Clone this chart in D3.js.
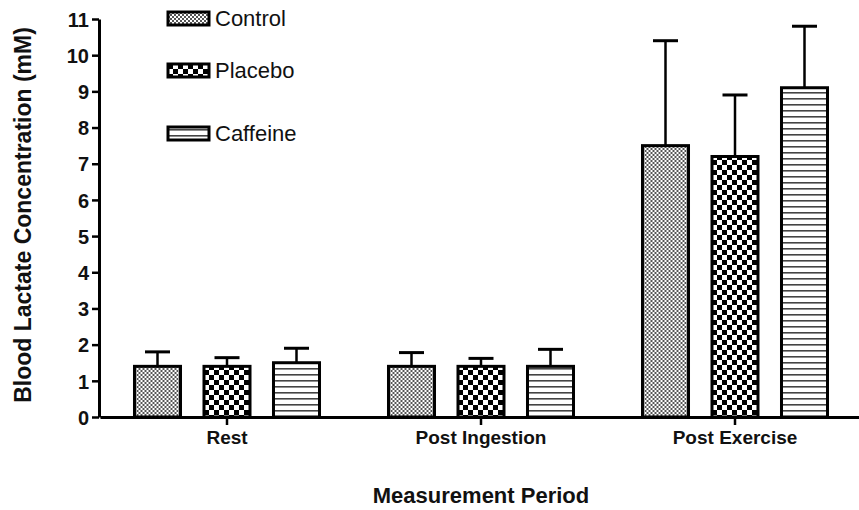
<!DOCTYPE html>
<html>
<head>
<meta charset="utf-8">
<script src="https://cdn.jsdelivr.net/npm/d3@7"></script>
<style>
  body { margin: 0; background: #fff; }
  svg { display: block; font-family: "Liberation Sans", Arial, sans-serif; }
  .axis path, .axis line { stroke: #000; }
  .axis text { font-weight: bold; fill: #111; }
</style>
</head>
<body>
<svg width="859" height="510"></svg>
<script>
'use strict';

// data
var periods = ["Rest", "Post Ingestion", "Post Exercise"];
var groups = ["Control", "Placebo", "Caffeine"];
var control = [1.4, 1.4, 7.5];
var placebo = [1.4, 1.4, 7.2];
var caffeine = [1.5, 1.4, 9.1];
var controlSd = [0.4, 0.38, 2.9];
var placeboSd = [0.24, 0.22, 1.7];
var caffeineSd = [0.4, 0.47, 1.7];
var yTicks = [0, 1, 2, 3, 4, 5, 6, 7, 8, 9, 10, 11];

var means = [control, placebo, caffeine];
var sds = [controlSd, placeboSd, caffeineSd];

var rows = [];
periods.forEach(function(p, i) {
  groups.forEach(function(g, j) {
    rows.push({period: p, group: g, value: means[j][i], sd: sds[j][i]});
  });
});

var svg = d3.select("svg");

// patterns
var defs = svg.append("defs");

var pc = defs.append("pattern").attr("id", "pat-Control")
  .attr("patternUnits", "userSpaceOnUse").attr("width", 4).attr("height", 4);
pc.append("rect").attr("width", 4).attr("height", 4).attr("fill", "#fff");
pc.append("rect").attr("width", 2).attr("height", 2).attr("fill", "#555");
pc.append("rect").attr("x", 2).attr("y", 2).attr("width", 2).attr("height", 2).attr("fill", "#555");

var pp = defs.append("pattern").attr("id", "pat-Placebo")
  .attr("patternUnits", "userSpaceOnUse").attr("width", 10).attr("height", 10);
pp.append("rect").attr("width", 10).attr("height", 10).attr("fill", "#fff");
pp.append("rect").attr("x", 0).attr("y", 0).attr("width", 5).attr("height", 5).attr("fill", "#000");
pp.append("rect").attr("x", 5).attr("y", 5).attr("width", 5).attr("height", 5).attr("fill", "#000");

var pf = defs.append("pattern").attr("id", "pat-Caffeine")
  .attr("patternUnits", "userSpaceOnUse").attr("width", 6).attr("height", 6);
pf.append("rect").attr("width", 6).attr("height", 6).attr("fill", "#fff");
pf.append("rect").attr("y", 2).attr("width", 6).attr("height", 1.6).attr("fill", "#444");

// scales
var x0 = d3.scaleBand().domain(periods).range([100, 862]).padding(0);
var x1 = d3.scaleBand().domain(groups)
  .range([x0.bandwidth() / 2 - 104.25, x0.bandwidth() / 2 + 104.25])
  .paddingInner(0.338).paddingOuter(0.169);
var y = d3.scaleLinear().domain([0, 11]).range([417, 19]);

// bars
var bar = svg.append("g").selectAll("g")
  .data(rows)
  .enter()
  .append("g")
  .attr("transform", function(d) { return "translate(" + (x0(d.period) + x1(d.group)) + ",0)"; });

// error bars (drawn first, bar covers the bottom part)
bar.append("line")
  .attr("x1", x1.bandwidth() / 2).attr("x2", x1.bandwidth() / 2)
  .attr("y1", function(d) { return y(d.value); })
  .attr("y2", function(d) { return y(d.value + d.sd); })
  .attr("stroke", "#000").attr("stroke-width", 2.5);
bar.append("line")
  .attr("x1", x1.bandwidth() / 2 - 12.5).attr("x2", x1.bandwidth() / 2 + 12.5)
  .attr("y1", function(d) { return y(d.value + d.sd); })
  .attr("y2", function(d) { return y(d.value + d.sd); })
  .attr("stroke", "#000").attr("stroke-width", 3);

bar.append("rect")
  .attr("x", 0)
  .attr("width", x1.bandwidth())
  .attr("y", function(d) { return y(d.value); })
  .attr("height", function(d) { return y(0) - y(d.value); })
  .attr("fill", function(d) { return "url(#pat-" + d.group + ")"; })
  .attr("stroke", "#000")
  .attr("stroke-width", 3);

// y axis
var yAxis = svg.append("g")
  .attr("class", "axis")
  .attr("transform", "translate(99,0)")
  .call(d3.axisLeft(y).tickValues(yTicks).tickSize(7).tickSizeOuter(0).tickPadding(3));
yAxis.select(".domain").attr("stroke-width", 3);
yAxis.selectAll(".tick line").attr("stroke-width", 2.5);
yAxis.selectAll(".tick text").style("font-size", "20px").attr("dy", "0.36em");

// x axis
var xAxis = svg.append("g")
  .attr("class", "axis")
  .attr("transform", "translate(0,417)")
  .call(d3.axisBottom(x0).tickSize(8).tickSizeOuter(0).tickPadding(6));
xAxis.select(".domain").attr("stroke-width", 3);
xAxis.selectAll(".tick line").attr("stroke-width", 2.5);
xAxis.selectAll(".tick text").style("font-size", "19px");

// axis titles
svg.append("text")
  .attr("transform", "translate(31,215) rotate(-90)")
  .attr("text-anchor", "middle")
  .style("font-size", "23px")
  .style("font-weight", "bold")
  .attr("fill", "#111")
  .text("Blood Lactate Concentration (mM)");

svg.append("text")
  .attr("x", 481).attr("y", 503)
  .attr("text-anchor", "middle")
  .style("font-size", "22px")
  .style("font-weight", "bold")
  .attr("fill", "#111")
  .text("Measurement Period");

// legend
var legendTop = [12, 64, 127];
var legend = svg.append("g").selectAll(".legend")
  .data(groups)
  .enter()
  .append("g")
  .attr("class", "legend")
  .attr("transform", function(d, i) { return "translate(168," + legendTop[i] + ")"; });

legend.append("rect")
  .attr("width", 41).attr("height", 13)
  .attr("fill", function(d) { return "url(#pat-" + d + ")"; })
  .attr("stroke", "#000").attr("stroke-width", 3);

legend.append("text")
  .attr("x", 47).attr("y", 14)
  .style("font-size", "22px")
  .attr("fill", "#111")
  .text(function(d) { return d; });
</script>
</body>
</html>
